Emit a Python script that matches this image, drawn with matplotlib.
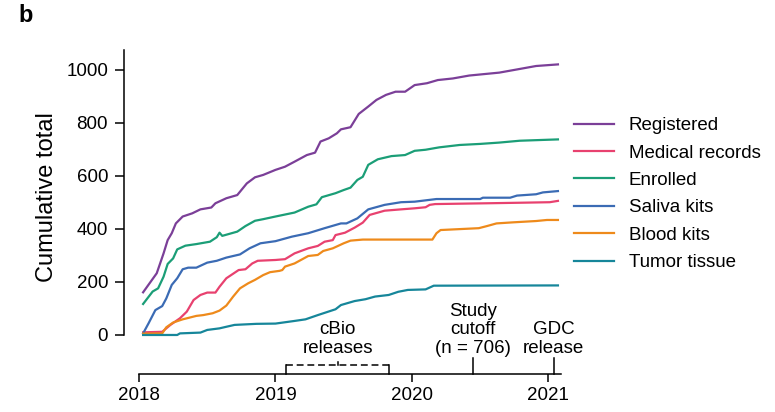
import matplotlib
matplotlib.use('Agg')
import matplotlib.pyplot as plt

plt.rcParams['font.family'] = ['Liberation Sans', 'DejaVu Sans']

# cumulative counts per series, x in decimal years
reg_x = [2018.03, 2018.13, 2018.18, 2018.21, 2018.24, 2018.27, 2018.32, 2018.39, 2018.45, 2018.53,
         2018.56, 2018.64, 2018.72, 2018.79, 2018.85, 2018.91, 2019.0, 2019.07, 2019.14, 2019.23,
         2019.29, 2019.33, 2019.39, 2019.45, 2019.48, 2019.55, 2019.61, 2019.68, 2019.74, 2019.81,
         2019.88, 2019.95, 2020.02, 2020.11, 2020.19, 2020.30, 2020.42, 2020.52, 2020.64, 2020.77,
         2020.91, 2021.07]
reg_y = [161, 233, 308, 358, 384, 421, 447, 459, 474, 481, 497, 516, 528, 572, 595, 604, 623, 635,
         654, 679, 688, 730, 742, 761, 776, 784, 834, 862, 887, 906, 918, 918, 943, 950, 962, 968,
         979, 984, 990, 1002, 1015, 1021]

med_x = [2018.03, 2018.17, 2018.23, 2018.30, 2018.35, 2018.40, 2018.45, 2018.50, 2018.56, 2018.59,
         2018.64, 2018.73, 2018.78, 2018.83, 2018.87, 2019.0, 2019.07, 2019.14, 2019.24, 2019.31,
         2019.36, 2019.42, 2019.44, 2019.51, 2019.58, 2019.64, 2019.69, 2019.80, 2019.92, 2020.02,
         2020.10, 2020.13, 2020.17, 2020.55, 2020.79, 2021.01, 2021.07]
med_y = [10, 12, 38, 63, 88, 132, 151, 160, 160, 182, 214, 245, 248, 270, 280, 283, 286, 308, 327,
         336, 352, 358, 377, 386, 405, 424, 453, 469, 474, 478, 482, 491, 494, 497, 499, 501, 506]

enr_x = [2018.03, 2018.10, 2018.14, 2018.18, 2018.21, 2018.25, 2018.28, 2018.34, 2018.42, 2018.52,
         2018.57, 2018.59, 2018.61, 2018.72, 2018.78, 2018.85, 2018.91, 2019.0, 2019.14, 2019.24,
         2019.30, 2019.34, 2019.44, 2019.50, 2019.55, 2019.60, 2019.64, 2019.68, 2019.75, 2019.85,
         2019.95, 2020.02, 2020.10, 2020.20, 2020.35, 2020.50, 2020.64, 2020.79, 2021.07]
enr_y = [117, 164, 176, 220, 268, 289, 323, 337, 343, 352, 369, 386, 374, 390, 411, 431, 437, 447,
         462, 484, 493, 520, 535, 547, 556, 585, 597, 642, 663, 675, 679, 695, 699, 708, 717, 721,
         726, 733, 738]

sal_x = [2018.03, 2018.07, 2018.12, 2018.17, 2018.20, 2018.24, 2018.28, 2018.32, 2018.36, 2018.42,
         2018.50, 2018.57, 2018.64, 2018.74, 2018.81, 2018.89, 2019.0, 2019.12, 2019.24, 2019.36,
         2019.48, 2019.52, 2019.60, 2019.68, 2019.80, 2019.92, 2020.02, 2020.10, 2020.18, 2020.50,
         2020.52, 2020.72, 2020.77, 2020.91, 2020.96, 2021.07]
sal_y = [6, 44, 94, 109, 138, 189, 214, 248, 254, 254, 273, 280, 292, 304, 327, 346, 354, 371, 384,
         403, 421, 421, 440, 474, 491, 501, 503, 508, 513, 513, 518, 518, 526, 531, 538, 543]

blood_x = [2018.03, 2018.17, 2018.20, 2018.25, 2018.32, 2018.42, 2018.47, 2018.54, 2018.59, 2018.64,
           2018.69, 2018.74, 2018.80, 2018.85, 2018.91, 2018.96, 2019.03, 2019.05, 2019.07, 2019.14,
           2019.24, 2019.31, 2019.35, 2019.42, 2019.50, 2019.55, 2019.64, 2020.15, 2020.18, 2020.21,
           2020.49, 2020.55, 2020.62, 2020.74, 2020.91, 2020.99, 2021.07]
blood_y = [5, 6, 29, 47, 59, 72, 75, 82, 92, 111, 145, 176, 195, 208, 226, 237, 242, 245, 258, 270,
           298, 302, 317, 327, 346, 356, 360, 360, 384, 396, 403, 411, 421, 425, 430, 434, 434]

tum_x = [2018.03, 2018.28, 2018.30, 2018.45, 2018.50, 2018.59, 2018.64, 2018.70, 2018.86, 2019.0,
         2019.14, 2019.22, 2019.31, 2019.44, 2019.48, 2019.58, 2019.66, 2019.73, 2019.83, 2019.90,
         2019.97, 2020.10, 2020.16, 2021.07]
tum_y = [0, 0, 6, 9, 19, 25, 31, 38, 42, 43, 53, 59, 75, 97, 113, 128, 135, 145, 151, 163, 170,
         172, 186, 187]

series = [
    ('Registered', reg_x, reg_y, '#7b3f98'),
    ('Medical records', med_x, med_y, '#e8416f'),
    ('Enrolled', enr_x, enr_y, '#1b9e77'),
    ('Saliva kits', sal_x, sal_y, '#3b6bb4'),
    ('Blood kits', blood_x, blood_y, '#ee8a1b'),
    ('Tumor tissue', tum_x, tum_y, '#16869a'),
]

year_ticks = [2018, 2019, 2020, 2021]
cbio_span = (2019.08, 2019.83)
cutoff_year = 2020.45
gdc_year = 2021.04

XLIM = (2017.89, 2021.15)
FS = 13.5

fig = plt.figure(figsize=(7.75, 4.12), dpi=100)
ax = fig.add_axes([0.16, 0.1818, 0.574, 0.6966])
for name, xs, ys, col in series:
    ax.plot(xs, ys, color=col, lw=1.6, label=name, clip_on=False, solid_joinstyle='round')
ax.set_xlim(*XLIM)
ax.set_ylim(-8, 1075)
ax.set_yticks([0, 200, 400, 600, 800, 1000])
ax.set_xticks([])
for s in ['top', 'right', 'bottom']:
    ax.spines[s].set_visible(False)
ax.spines['left'].set_bounds(0, 1075)
ax.spines['left'].set_linewidth(1.1)
ax.tick_params(axis='y', labelsize=FS, length=6.5, width=1.1, pad=5)

fig.text(47 / 775, 1 - 197.5 / 412, 'Cumulative total', rotation=90,
         ha='center', va='center', fontsize=17)
fig.text(18 / 775, 1 - 22 / 412, 'b', fontsize=17, fontweight='bold', va='baseline')

fig.legend(loc='upper left', bbox_to_anchor=(574 / 775, 1 - 117 / 412),
           bbox_transform=fig.transFigure, frameon=False, fontsize=FS,
           handlelength=2.13, handletextpad=0.8, labelspacing=0.55,
           borderpad=0, borderaxespad=0)

# timeline strip underneath
tl = fig.add_axes([0.16, 0.0922, 0.574, 0.0728])
tl.set_xlim(*XLIM)
tl.set_ylim(0, 1)
tl.set_yticks([])
tl.set_xticks(year_ticks)
tl.set_xticklabels([str(y) for y in year_ticks])
for s in ['top', 'right', 'left']:
    tl.spines[s].set_visible(False)
tl.spines['bottom'].set_bounds(2018, 2021.09)
tl.spines['bottom'].set_linewidth(1.1)
tl.tick_params(axis='x', labelsize=FS, length=6, width=1.1, pad=3.5)
tl.patch.set_visible(False)

lk = dict(color='black', lw=1.1, clip_on=False)
a, b = cbio_span
mid = (a + b) / 2
tl.plot([a, b], [0.3, 0.3], ls=(0, (4.5, 2.5)), **lk)
tl.plot([a, a], [0, 0.3], **lk)
tl.plot([b, b], [0, 0.3], **lk)
tl.plot([mid, mid], [0.3, 0.4], **lk)
tl.plot([cutoff_year, cutoff_year], [0, 0.53], **lk)
tl.plot([gdc_year, gdc_year], [0, 0.53], **lk)

tk = dict(ha='center', va='bottom', fontsize=FS, linespacing=1.1, clip_on=False)
tl.text(mid, 0.58, 'cBio\nreleases', **tk)
tl.text(cutoff_year, 0.58, 'Study\ncutoff\n(n = 706)', **tk)
tl.text(gdc_year, 0.58, 'GDC\nrelease', **tk)

fig.savefig('out.png', dpi=100)
